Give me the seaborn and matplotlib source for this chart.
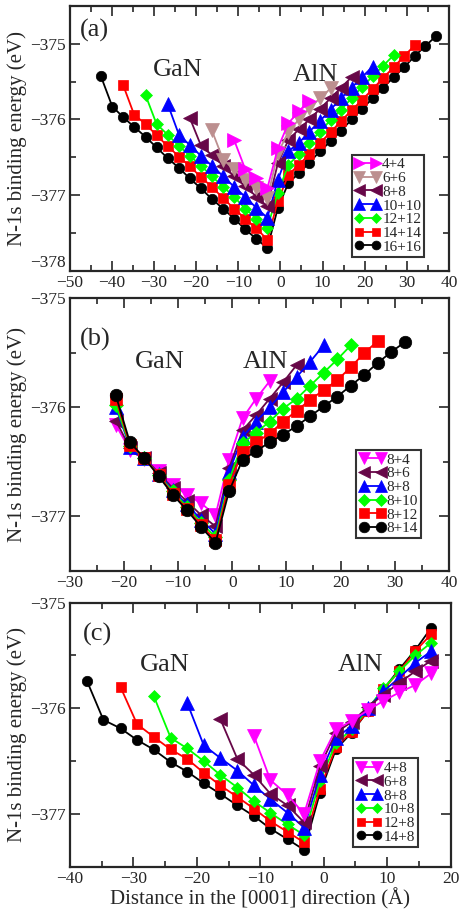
import matplotlib
matplotlib.use("Agg")
import matplotlib.pyplot as plt
import seaborn as sns
from matplotlib.ticker import MultipleLocator

# ==============================
# DATA
# ==============================
# N positions along [0001], GaN side (left -> interface) and AlN side
x_gan = [-42.6, -39.9, -37.3, -34.7, -32.0, -29.4, -26.8, -24.1,
         -21.5, -18.9, -16.3, -13.6, -11.0, -8.4, -5.7, -3.1]
x_aln = [-0.6, 1.9, 4.4, 6.9, 9.4, 11.9, 14.4, 16.9,
         19.4, 21.9, 24.4, 26.9, 29.4, 31.9, 34.4, 36.9]

# panel (a): n+n
labels_a = ["4+4", "6+6", "8+8", "10+10", "12+12", "14+14", "16+16"]
gan_a_4 = [-376.27, -376.65, -376.78, -376.91]
aln_a_4 = [-376.38, -376.05, -375.89, -375.75]
gan_a_6 = [-376.14, -376.53, -376.66, -376.80, -376.91, -377.04]
aln_a_6 = [-376.45, -376.16, -376.00, -375.85, -375.72, -375.59]
gan_a_8 = [-375.98, -376.34, -376.47, -376.61, -376.75, -376.88, -377.02, -377.15]
aln_a_8 = [-376.58, -376.27, -376.13, -376.00, -375.86, -375.72, -375.58, -375.44]
gan_a_10 = [-375.79, -376.20, -376.34, -376.48, -376.61, -376.75, -376.89, -377.02,
            -377.17, -377.30]
aln_a_10 = [-376.80, -376.42, -376.31, -376.16, -376.02, -375.87, -375.72, -375.58,
            -375.44, -375.30]
gan_a_12 = [-375.68, -376.06, -376.20, -376.35, -376.48, -376.61, -376.75, -376.89,
            -377.02, -377.18, -377.31, -377.43]
aln_a_12 = [-376.97, -376.60, -376.46, -376.31, -376.16, -376.01, -375.87, -375.72,
            -375.57, -375.43, -375.29, -375.15]
gan_a_14 = [-375.55, -375.94, -376.06, -376.21, -376.35, -376.49, -376.62, -376.76,
            -376.89, -377.04, -377.18, -377.31, -377.44, -377.59]
aln_a_14 = [-377.08, -376.73, -376.60, -376.46, -376.31, -376.17, -376.02, -375.88,
            -375.74, -375.60, -375.45, -375.31, -375.16, -375.02]
gan_a_16 = [-375.43, -375.83, -375.97, -376.10, -376.23, -376.37, -376.51, -376.64,
            -376.78, -376.91, -377.05, -377.18, -377.31, -377.45, -377.58, -377.70]
aln_a_16 = [-377.17, -376.84, -376.71, -376.57, -376.42, -376.29, -376.15, -376.00,
            -375.86, -375.72, -375.58, -375.44, -375.31, -375.16, -375.03, -374.90]

# panel (b): 8+n
labels_b = ["8+4", "8+6", "8+8", "8+10", "8+12", "8+14"]
gan_b_4 = [-376.16, -376.39, -376.47, -376.58, -376.71, -376.80, -376.88, -376.99]
aln_b_4 = [-376.48, -376.10, -375.92, -375.76]
gan_b_6 = [-376.12, -376.37, -376.46, -376.60, -376.74, -376.86, -376.99, -377.09]
aln_b_6 = [-376.56, -376.21, -376.07, -375.92, -375.77, -375.61]
gan_b_8 = [-376.00, -376.36, -376.46, -376.61, -376.76, -376.89, -377.03, -377.16]
aln_b_8 = [-376.59, -376.27, -376.13, -376.00, -375.86, -375.72, -375.58, -375.43]
gan_b_10 = [-375.98, -376.35, -376.46, -376.62, -376.77, -376.91, -377.06, -377.19]
aln_b_10 = [-376.67, -376.33, -376.23, -376.13, -376.01, -375.92, -375.80, -375.68,
            -375.56, -375.43]
gan_b_12 = [-375.92, -376.34, -376.46, -376.62, -376.79, -376.93, -377.08, -377.22]
aln_b_12 = [-376.71, -376.41, -376.32, -376.24, -376.13, -376.03, -375.93, -375.84,
            -375.75, -375.63, -375.50, -375.39]
gan_b_14 = [-375.89, -376.32, -376.46, -376.63, -376.80, -376.94, -377.10, -377.24]
aln_b_14 = [-376.77, -376.48, -376.40, -376.32, -376.25, -376.17, -376.08, -375.99,
            -375.90, -375.80, -375.70, -375.59, -375.49, -375.40]

# panel (c): n+8
labels_c = ["4+8", "6+8", "8+8", "10+8", "12+8", "14+8"]
gan_c_4 = [-376.26, -376.68, -376.82, -377.00]
aln_c_4 = [-376.50, -376.20, -376.12, -376.02, -375.93, -375.85, -375.78, -375.67]
gan_c_6 = [-376.10, -376.48, -376.63, -376.81, -376.92, -377.08]
aln_c_6 = [-376.55, -376.23, -376.13, -375.99, -375.87, -375.76, -375.65, -375.55]
gan_c_8 = [-375.95, -376.35, -376.47, -376.59, -376.73, -376.86, -376.99, -377.13]
aln_c_8 = [-376.63, -376.28, -376.17, -376.00, -375.84, -375.71, -375.57, -375.46]
gan_c_10 = [-375.88, -376.28, -376.38, -376.50, -376.63, -376.75, -376.88, -376.99,
            -377.10, -377.20]
aln_c_10 = [-376.69, -376.33, -376.20, -376.01, -375.81, -375.65, -375.50, -375.38]
gan_c_12 = [-375.80, -376.15, -376.27, -376.39, -376.48, -376.61, -376.73, -376.84,
            -376.95, -377.07, -377.17, -377.27]
aln_c_12 = [-376.76, -376.37, -376.22, -376.03, -375.82, -375.65, -375.46, -375.30]
gan_c_14 = [-375.74, -376.11, -376.19, -376.30, -376.39, -376.51, -376.60, -376.71,
            -376.81, -376.92, -377.02, -377.14, -377.24, -377.34]
aln_c_14 = [-376.80, -376.39, -376.23, -376.03, -375.82, -375.63, -375.45, -375.24]

# ==============================
# STYLE
# ==============================
sns.set_style("ticks")
plt.rcParams["font.family"] = ["Liberation Serif", "DejaVu Serif"]
plt.rcParams["mathtext.fontset"] = "stix"

MAGENTA, BROWN, MAROON = "#ff00ff", "#bc8f8f", "#670748"
BLUE, GREEN, RED, BLACK = "#0000ff", "#00ff00", "#ff0000", "#000000"

series_a = [
    ("4+4", gan_a_4, aln_a_4, MAGENTA, ">", 9.5),
    ("6+6", gan_a_6, aln_a_6, BROWN, "v", 9.5),
    ("8+8", gan_a_8, aln_a_8, MAROON, "<", 9.5),
    ("10+10", gan_a_10, aln_a_10, BLUE, "^", 9.5),
    ("12+12", gan_a_12, aln_a_12, GREEN, "D", 6.5),
    ("14+14", gan_a_14, aln_a_14, RED, "s", 7.5),
    ("16+16", gan_a_16, aln_a_16, BLACK, "o", 7.5),
]
series_b = [
    ("8+4", gan_b_4, aln_b_4, MAGENTA, "v", 10),
    ("8+6", gan_b_6, aln_b_6, MAROON, "<", 10),
    ("8+8", gan_b_8, aln_b_8, BLUE, "^", 10),
    ("8+10", gan_b_10, aln_b_10, GREEN, "D", 7),
    ("8+12", gan_b_12, aln_b_12, RED, "s", 8.5),
    ("8+14", gan_b_14, aln_b_14, BLACK, "o", 9),
]
series_c = [
    ("4+8", gan_c_4, aln_c_4, MAGENTA, "v", 9.5),
    ("6+8", gan_c_6, aln_c_6, MAROON, "<", 9.5),
    ("8+8", gan_c_8, aln_c_8, BLUE, "^", 9.5),
    ("10+8", gan_c_10, aln_c_10, GREEN, "D", 6.5),
    ("12+8", gan_c_12, aln_c_12, RED, "s", 7.5),
    ("14+8", gan_c_14, aln_c_14, BLACK, "o", 7.5),
]

fig = plt.figure(figsize=(4.59, 9.09), dpi=100)
ax_a = fig.add_axes([0.152, 0.7022, 0.826, 0.2912])
ax_b = fig.add_axes([0.152, 0.3718, 0.826, 0.3000])
ax_c = fig.add_axes([0.152, 0.0465, 0.830, 0.2905])


def draw_panel(ax, series, black_on_top):
    n = len(series)
    for i, (lab, gan, aln, col, mk, ms) in enumerate(series):
        xs = x_gan[len(x_gan) - len(gan):] + x_aln[:len(aln)]
        ys = gan + aln
        z = 2 + i if black_on_top else 2 + n - i
        sns.lineplot(x=xs, y=ys, ax=ax, color=col, marker=mk, markersize=ms,
                     markeredgecolor=col, markeredgewidth=0.5, linewidth=1.3,
                     sort=False, estimator=None, label=lab, zorder=z,
                     legend=False)


def style_axes(ax, xlim, ylim, xmajor, panel, gan_pos, aln_pos, txt_y):
    ax.set_xlim(*xlim)
    ax.set_ylim(*ylim)
    ax.xaxis.set_major_locator(MultipleLocator(xmajor))
    ax.xaxis.set_minor_locator(MultipleLocator(xmajor / 2))
    ax.yaxis.set_major_locator(MultipleLocator(1))
    ax.yaxis.set_minor_locator(MultipleLocator(0.5))
    ax.tick_params(which="both", direction="in", top=True, right=True,
                   labelsize=12.5, width=1.2, pad=3)
    ax.tick_params(which="major", length=7)
    ax.tick_params(which="minor", length=4)
    for sp in ax.spines.values():
        sp.set_linewidth(1.6)
        sp.set_visible(True)
    ax.set_ylabel("N-1s binding energy (eV)", fontsize=15, labelpad=2)
    ax.set_xlabel("")
    ax.text(panel[0], panel[1], panel[2], transform=ax.transAxes,
            fontsize=19, va="center", ha="left")
    ax.text(gan_pos, txt_y, "GaN", transform=ax.transAxes,
            fontsize=19, va="center", ha="left")
    ax.text(aln_pos, txt_y - (0.02 if panel[2] == "(a)" else 0), "AlN",
            transform=ax.transAxes, fontsize=19, va="center", ha="left")


def add_legend(ax, series, anchor):
    handles = [ln for ln in ax.get_lines() if not ln.get_label().startswith("_")]
    order = {s[0]: k for k, s in enumerate(series)}
    handles.sort(key=lambda h: order[h.get_label()])
    leg = ax.legend(handles=handles, loc="lower right", bbox_to_anchor=anchor,
                    fontsize=11, numpoints=2, handlelength=1.7,
                    handletextpad=0.1, labelspacing=0.0, borderpad=0.2,
                    borderaxespad=0, frameon=True, fancybox=False,
                    markerscale=0.85)
    leg.get_frame().set_edgecolor("black")
    leg.get_frame().set_linewidth(1.5)
    leg.set_zorder(20)


draw_panel(ax_a, series_a, black_on_top=False)
style_axes(ax_a, (-50, 40), (-378, -374.5), 10, (0.027, 0.906, "(a)"),
           0.219, 0.589, 0.758)
add_legend(ax_a, series_a, (0.935, 0.053))

draw_panel(ax_b, series_b, black_on_top=True)
style_axes(ax_b, (-30, 40), (-377.5, -375), 10, (0.027, 0.851, "(b)"),
           0.172, 0.455, 0.768)
add_legend(ax_b, series_b, (0.927, 0.12))

draw_panel(ax_c, series_c, black_on_top=False)
style_axes(ax_c, (-40, 20), (-377.5, -375), 10, (0.035, 0.881, "(c)"),
           0.184, 0.704, 0.764)
add_legend(ax_c, series_c, (0.914, 0.076))
ax_c.set_xlabel("Distance in the [0001] direction (Å)", fontsize=15, labelpad=1)

# keep the corner labels -378 / -50 in panel (a) from colliding
fig.canvas.draw()
for tk in ax_a.yaxis.get_major_ticks():
    if abs(tk.get_loc() + 378) < 1e-6:
        tk.label1.set_verticalalignment("bottom")

fig.savefig("out.png", dpi=100)
